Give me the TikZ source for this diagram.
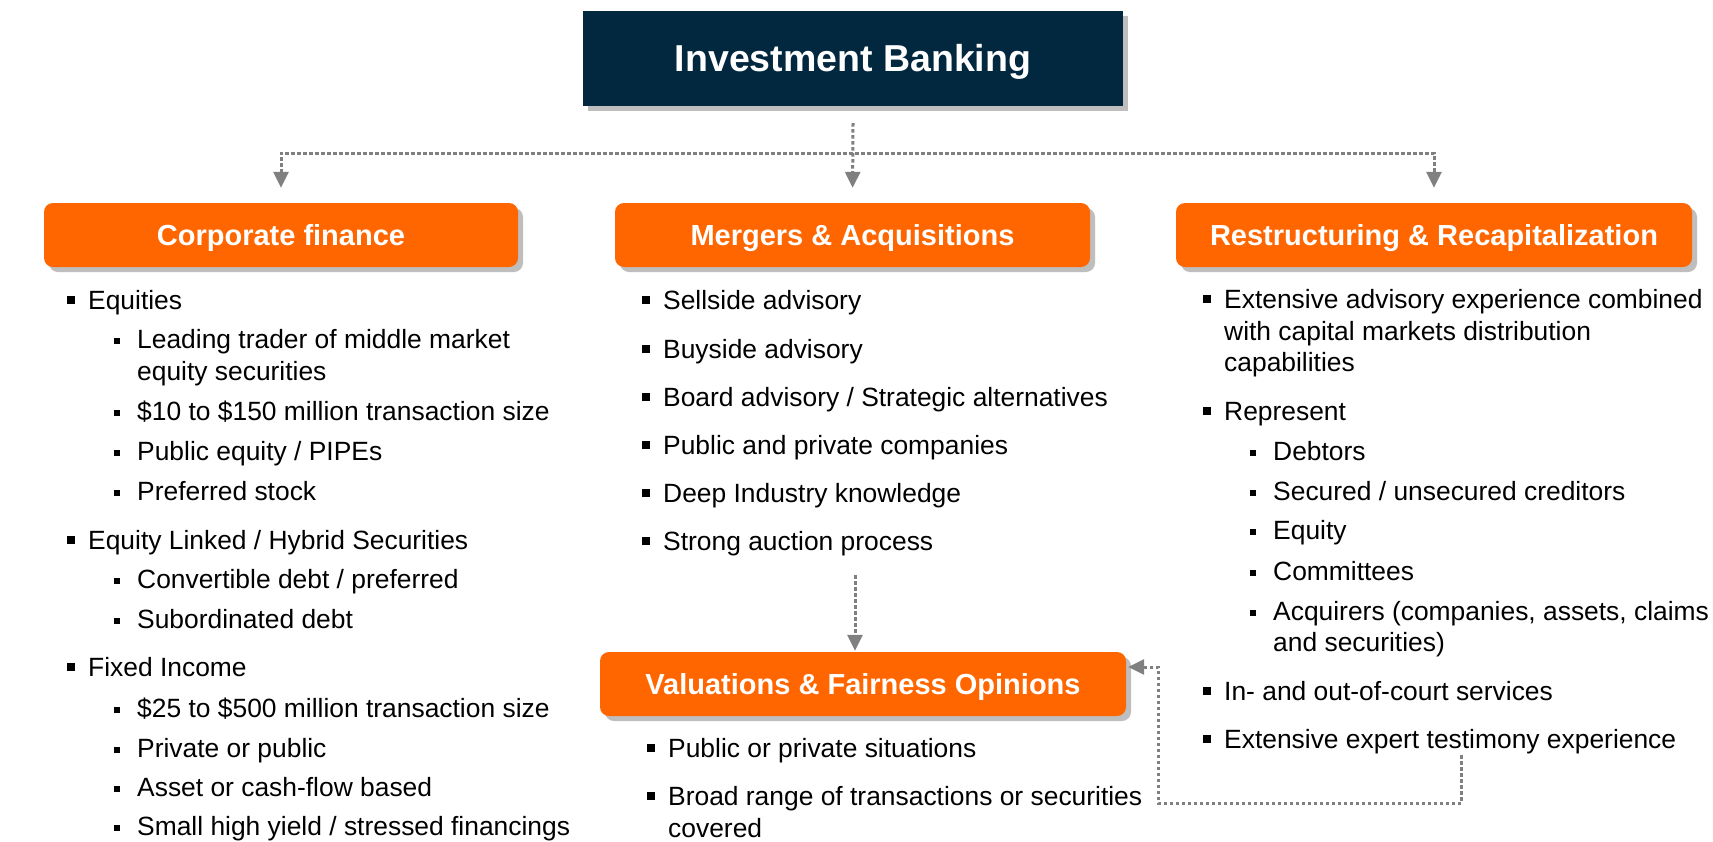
\documentclass[tikz,border=0pt]{standalone}
\usepackage{fontspec}
\setmainfont{Liberation Sans}
\usetikzlibrary{arrows.meta}
\definecolor{navy}{RGB}{2,40,64}
\definecolor{orng}{RGB}{255,102,0}
\definecolor{shad}{RGB}{190,190,190}
\definecolor{conng}{RGB}{128,128,128}
\newcommand\bA{\llap{\rule[5.5pt]{8pt}{8pt}\hspace{13pt}}}
\newcommand\bB{\llap{\rule[4pt]{6pt}{6pt}\hspace{17pt}}}
\begin{document}
\begin{tikzpicture}[x=1pt,y=-1pt,
 shadowed/.style={preaction={fill=shad, transform canvas={xshift=5pt,yshift=-5pt}}},
 topbox/.style={shadowed, fill=navy, text=white, font=\fontsize{37.5}{45}\selectfont\bfseries, minimum width=540pt, minimum height=95pt, inner sep=0pt, text height=26.9pt, text depth=0pt},
 head/.style={shadowed, fill=orng, rounded corners=9pt, text=white, font=\fontsize{29}{35}\selectfont\bfseries, minimum height=64pt, inner sep=0pt, text height=20.8pt, text depth=0pt},
 txt/.style={anchor=base west, inner sep=0pt, font=\fontsize{26.4}{31.5}\selectfont},
 conn/.style={draw=conng, line width=3pt, dash pattern=on 3.5pt off 2.5pt},
 tip/.style={-{Triangle[width=15pt,length=16pt]}},
 tips/.style={{Triangle[width=15pt,length=16pt]}-{Triangle[width=15pt,length=16pt]}}
]
\fill[white] (0,0) rectangle (1713,841);
\useasboundingbox (0,0) rectangle (1713,841);

% boxes
\node[topbox] (ib) at (853,58.5) {Investment Banking};
\node[head, minimum width=474pt] (cf) at (281,235) {Corporate finance};
\node[head, minimum width=475pt] (ma) at (852.5,235) {Mergers \& Acquisitions};
\node[head, minimum width=516pt] (rr) at (1434,235) {Restructuring \& Recapitalization};
\node[head, minimum width=526pt] (vf) at (863,684) {Valuations \& Fairness Opinions};

% left column
\node[txt] (l1) at (88,309) {\bA Equities};
\node[txt] (l2) at (137,348) {\bB Leading trader of middle market};
\node[txt] (l2b) at (137,380) {equity securities};
\node[txt] (l3) at (137,420) {\bB \$10 to \$150 million transaction size};
\node[txt] (l4) at (137,460) {\bB Public equity / PIPEs};
\node[txt] (l5) at (137,500) {\bB Preferred stock};
\node[txt] (l6) at (88,549) {\bA Equity Linked / Hybrid Securities};
\node[txt] (l7) at (137,588) {\bB Convertible debt / preferred};
\node[txt] (l8) at (137,628) {\bB Subordinated debt};
\node[txt] (l9) at (88,676) {\bA Fixed Income};
\node[txt] (l10) at (137,717) {\bB \$25 to \$500 million transaction size};
\node[txt] (l11) at (137,757) {\bB Private or public};
\node[txt] (l12) at (137,796) {\bB Asset or cash-flow based};
\node[txt] (l13) at (137,835) {\bB Small high yield / stressed financings};

% middle column
\node[txt] (m1) at (663,309) {\bA Sellside advisory};
\node[txt] (m2) at (663,358) {\bA Buyside advisory};
\node[txt] (m3) at (663,406) {\bA Board advisory / Strategic alternatives};
\node[txt] (m4) at (663,454) {\bA Public and private companies};
\node[txt] (m5) at (663,502) {\bA Deep Industry knowledge};
\node[txt] (m6) at (663,550) {\bA Strong auction process};

\node[txt] (v1) at (668,757) {\bA Public or private situations};
\node[txt] (v2) at (668,805) {\bA Broad range of transactions or securities};
\node[txt] (v2b) at (668,837) {covered};

% right column
\node[txt] (r1) at (1224,308) {\bA Extensive advisory experience combined};
\node[txt] (r1b) at (1224,340) {with capital markets distribution};
\node[txt] (r1c) at (1224,371) {capabilities};
\node[txt] (r2) at (1224,420) {\bA Represent};
\node[txt] (r3) at (1273,460) {\bB Debtors};
\node[txt] (r4) at (1273,500) {\bB Secured / unsecured creditors};
\node[txt] (r5) at (1273,539) {\bB Equity};
\node[txt] (r6) at (1273,580) {\bB Committees};
\node[txt] (r7) at (1273,620) {\bB Acquirers (companies, assets, claims};
\node[txt] (r7b) at (1273,651) {and securities)};
\node[txt] (r8) at (1224,700) {\bA In- and out-of-court services};
\node[txt] (r9) at (1224,748) {\bA Extensive expert testimony experience};

% connectors
\coordinate (split) at (853,153);
\draw[conn, tips, shorten <=15pt, shorten >=15pt] (cf.north) |- (split) -| (rr.north);
\draw[conn, tip, shorten >=15pt] ([yshift=-17pt]ib.south) -- (ma.north);

\coordinate (mavs) at (855,575);
\draw[conn, tip, shorten >=1pt] (mavs) -- (mavs |- vf.north);

\coordinate (bs) at (1461,755);
\coordinate (bc1) at (1461,803);
\coordinate (bc2) at (1158,803);
\coordinate (bc3) at (1158,667);
\draw[conn, tip, shorten >=2pt] (bs) -- (bc1) -- (bc2) -- (bc3) -- (bc3 -| vf.east);
\end{tikzpicture}
\end{document}
